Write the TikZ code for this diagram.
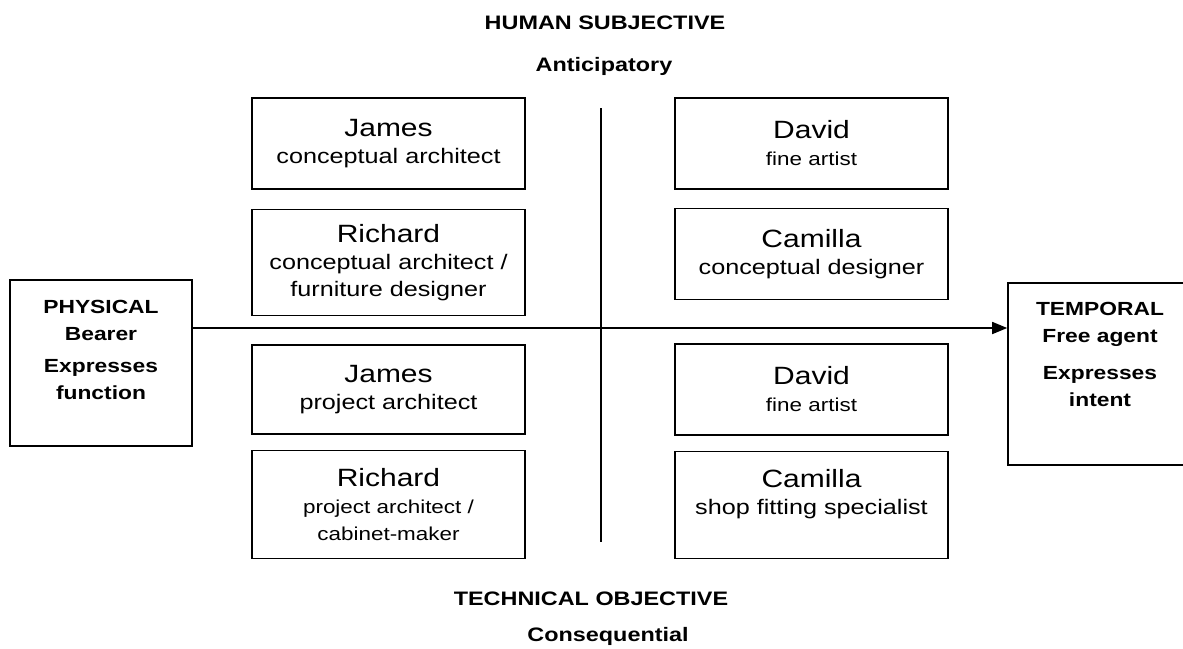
\documentclass[tikz,border=0pt]{standalone}
\usepackage{fontspec}
\setmainfont{Liberation Sans}[FakeStretch=1.2]
\usetikzlibrary{positioning,arrows.meta}

\newcommand{\pname}[1]{{\fontsize{25}{27}\selectfont #1}}
\newcommand{\smallrole}{\fontsize{18.7}{23}\selectfont}

\begin{document}
\begin{tikzpicture}[x=1pt,y=-1pt,
	rolebox/.style={draw, line width=1.6pt, minimum width=273pt, align=center, inner sep=2pt, font=\fontsize{21}{27}\selectfont},
	sidebox/.style={draw, line width=1.6pt, align=center, inner sep=2pt, font=\bfseries\fontsize{19}{27}\selectfont},
	heading/.style={anchor=base, font=\bfseries\fontsize{19.5}{24}\selectfont},
	]
	\useasboundingbox (0,0) rectangle (1183,648);
	\clip (0,0) rectangle (1183,648);
	
	%Headings
	\node[heading] (human)  at (605,29)    {HUMAN SUBJECTIVE};
	\node[heading] (antic)  at (604,71)    {Anticipatory};
	\node[heading] (tech)   at (591,605)   {TECHNICAL OBJECTIVE};
	\node[heading] (conseq) at (608,641.5) {Consequential};
	
	%Side boxes
	\node[sidebox, minimum width=182pt, minimum height=166pt] (physical) at (101,363)
		{PHYSICAL\\Bearer\\[5pt]Expresses\\function\\[-1pt]\mbox{}};
	\node[sidebox, minimum width=184pt, minimum height=182pt] (temporal) at (1100,374)
		{TEMPORAL\\Free agent\\[10pt]Expresses\\intent\\[13pt]\mbox{}};
	
	%Left column
	\node[rolebox, minimum height=91pt]  (jamesA)   at (388.5,143.5) {\pname{James}\\conceptual architect};
	\node[rolebox, minimum height=106pt] (richardA) [below=19pt of jamesA]
		{\pname{Richard}\\conceptual architect /\\furniture designer};
	\node[rolebox, minimum height=89pt]  (jamesB)   at (388.5,389.5) {\pname{James}\\project architect};
	\node[rolebox, minimum height=108pt] (richardB) [below=15pt of jamesB]
		{\pname{Richard}\\{\smallrole project architect /}\\{\smallrole cabinet-maker}};
	
	%Right column
	\node[rolebox, minimum height=91pt]  (davidA)   at (811.5,143.5) {\pname{David}\\{\smallrole fine artist}};
	\node[rolebox, minimum height=91pt]  (camillaA) [below=18pt of davidA]
		{\pname{Camilla}\\conceptual designer};
	\node[rolebox, minimum height=91pt]  (davidB)   at (811.5,389.5) {\pname{David}\\{\smallrole fine artist}};
	\node[rolebox, minimum height=107pt] (camillaB) [below=15pt of davidB]
		{\pname{Camilla}\\shop fitting specialist\\\mbox{}};
	
	%Axes
	\coordinate (vtop) at (601,108);
	\coordinate (vbot) at (601,542);
	\coordinate (axis) at (601,328);
	\draw[line width=1.6pt] (vtop) -- (vbot);
	\draw[line width=1.6pt, -{Triangle[length=15pt,width=12pt]}] (physical.east |- axis) -- (temporal.west |- axis);
\end{tikzpicture}
\end{document}
